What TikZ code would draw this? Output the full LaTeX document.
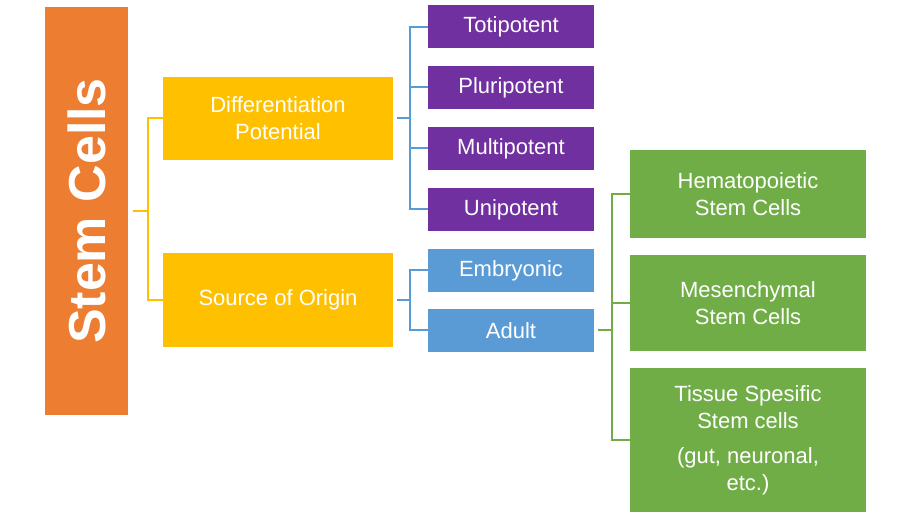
\documentclass[tikz,border=0pt]{standalone}
\usepackage{fontspec}
\setmainfont{Liberation Sans}
\begin{document}
\begin{tikzpicture}[x=1pt,y=-1pt,
  box/.style={draw=none,inner sep=0pt,text=white,align=center,font=\fontsize{22}{27}\selectfont},
  br/.style={line width=2pt}]
\definecolor{cor}{HTML}{ED7D31}\definecolor{cye}{HTML}{FFC000}
\definecolor{cpu}{HTML}{7030A0}\definecolor{cbl}{HTML}{5B9BD5}\definecolor{cgr}{HTML}{70AD47}
\useasboundingbox (0,0) rectangle (911,521);
\newcommand\bx[7]{\fill[#6] (#2,#3) rectangle (#4,#5); \node[box] (#1) at ({(#2+#4)/2},{(#3+#5)/2}) {#7};}
\fill[cor] (45,7) rectangle (128,415);
\node[box,rotate=90,font=\fontsize{52}{60}\selectfont\bfseries] (sc) at (86.5,211) {Stem Cells};
\bx{dp}{163}{77}{393}{160}{cye}{Differentiation\\Potential}
\bx{so}{163}{253}{393}{347}{cye}{Source of Origin}
\bx{t}{428}{5}{594}{48}{cpu}{Totipotent}
\bx{p}{428}{66}{594}{109}{cpu}{Pluripotent}
\bx{m}{428}{127}{594}{170}{cpu}{Multipotent}
\bx{u}{428}{188}{594}{231}{cpu}{Unipotent}
\bx{e}{428}{249}{594}{292}{cbl}{Embryonic}
\bx{a}{428}{309}{594}{352}{cbl}{Adult}
\bx{h}{630}{150}{866}{238}{cgr}{Hematopoietic\\Stem Cells}
\bx{ms}{630}{255}{866}{351}{cgr}{Mesenchymal\\Stem Cells}
\bx{ts}{630}{368}{866}{512}{cgr}{Tissue Spesific\\Stem cells\\[8pt](gut, neuronal,\\etc.)}
\draw[br,cye] (133,211) -- (148,211) (163,118) -- (148,118) -- (148,300) -- (163,300);
\draw[br,cbl] (397,118) -- (410,118) (428,27) -- (410,27) -- (410,209) -- (428,209)
  (410,87) -- (428,87) (410,148) -- (428,148);
\draw[br,cbl] (397,300) -- (410,300) (428,270) -- (410,270) -- (410,330) -- (428,330);
\draw[br,cgr] (598,330) -- (612,330) (630,194) -- (612,194) -- (612,440) -- (630,440) (612,303) -- (630,303);
\end{tikzpicture}
\end{document}
